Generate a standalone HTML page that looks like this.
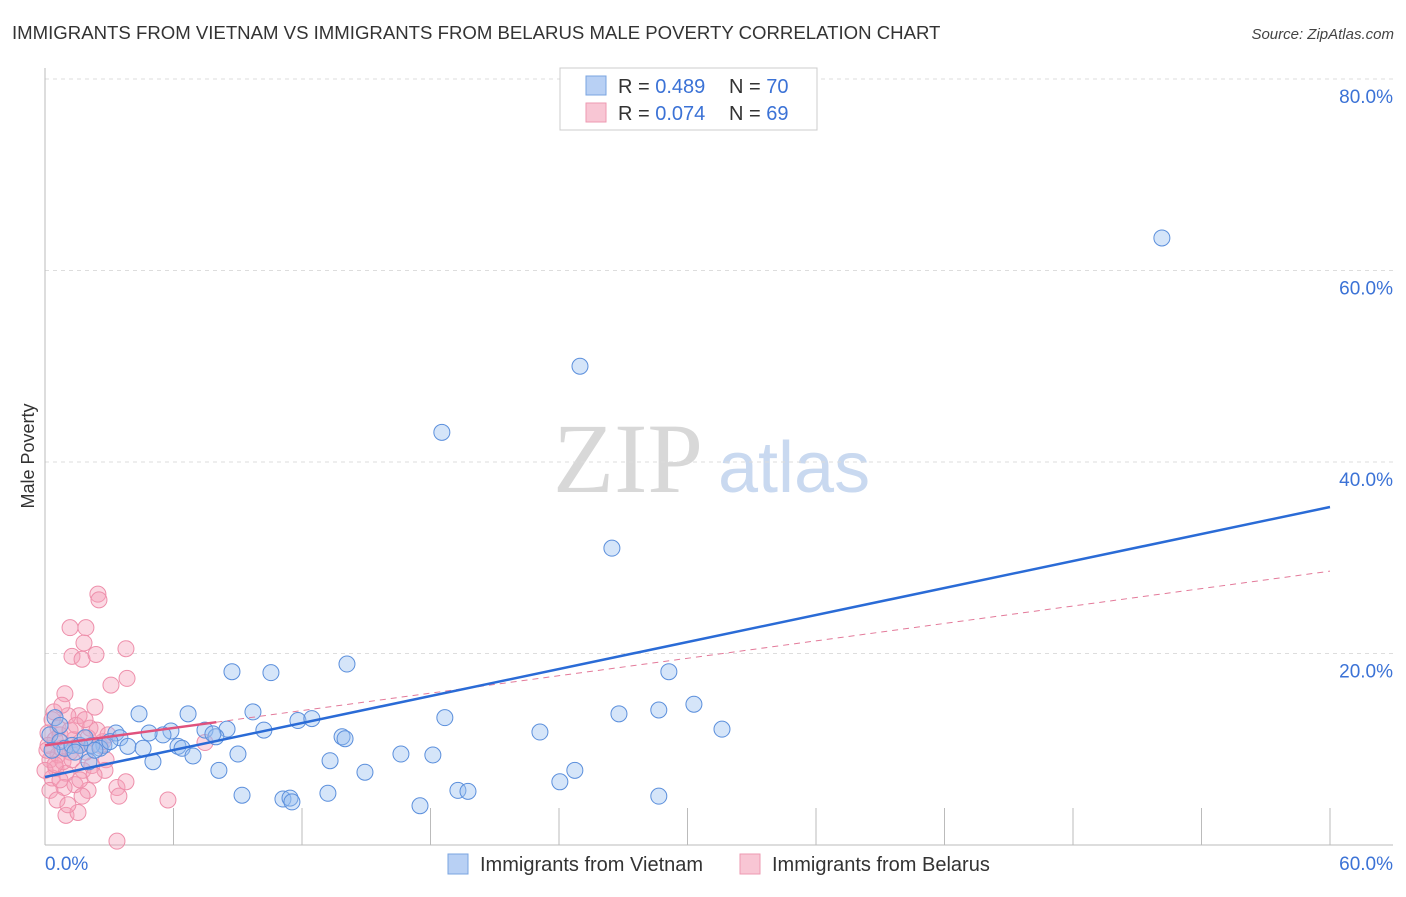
<!DOCTYPE html>
<html><head><meta charset="utf-8"><style>
body{margin:0;background:#fff;font-family:"Liberation Sans",sans-serif}
svg text{font-family:"Liberation Sans",sans-serif}
</style></head><body>
<svg id="c" width="1406" height="892">
<text x="12" y="39" font-size="18.6" fill="#333">IMMIGRANTS FROM VIETNAM VS IMMIGRANTS FROM BELARUS MALE POVERTY CORRELATION CHART</text>
<text x="1394" y="39" font-size="15" fill="#444" font-style="italic" text-anchor="end">Source: ZipAtlas.com</text>
<text transform="translate(34,456) rotate(-90)" font-size="18" fill="#333" text-anchor="middle">Male Poverty</text>
<text x="553" y="492" font-size="100" fill="#d8d8d8" style="font-family:'Liberation Serif',serif">ZIP</text>
<text x="718" y="492" font-size="72" fill="#c9d9f0">atlas</text>
<g id="grid"></g><g id="pts"></g><g id="lines"></g>
<g>
<rect x="560" y="68" width="257" height="62" fill="#fff" stroke="#ccc"/>
<rect x="586" y="76" width="20" height="19" fill="#b8d0f4" stroke="#7aa4e0"/>
<rect x="586" y="103" width="20" height="19" fill="#f8c6d4" stroke="#ee9ab2"/>
<text x="618" y="93" font-size="20" fill="#333">R = <tspan fill="#3b72d6">0.489</tspan></text>
<text x="729" y="93" font-size="20" fill="#333">N = <tspan fill="#3b72d6">70</tspan></text>
<text x="618" y="120" font-size="20" fill="#333">R = <tspan fill="#3b72d6">0.074</tspan></text>
<text x="729" y="120" font-size="20" fill="#333">N = <tspan fill="#3b72d6">69</tspan></text>
</g>
<g>
<rect x="448" y="854" width="20" height="20" fill="#b8d0f4" stroke="#7aa4e0"/>
<text x="480" y="871" font-size="20" fill="#333">Immigrants from Vietnam</text>
<rect x="740" y="854" width="20" height="20" fill="#f8c6d4" stroke="#ee9ab2"/>
<text x="772" y="871" font-size="20" fill="#333">Immigrants from Belarus</text>
</g>
</svg>
<script>
const yTicks=[20,40,60,80];
const yTickLabels=["20.0%","40.0%","60.0%","80.0%"];
const xTickLabels=["0.0%","60.0%"];
const blueX=[52.15,24.98,18.53,26.47,14.10,8.73,10.55,29.13,30.30,28.66,26.80,18.67,31.61,23.11,4.39,6.68,9.71,11.81,12.46,10.22,8.50,7.47,5.88,5.51,4.86,3.31,3.50,2.75,2.19,3.87,4.58,6.21,6.40,7.98,7.84,13.87,14.01,9.01,6.91,5.04,2.05,13.31,16.62,18.11,24.74,14.94,8.12,24.04,19.28,19.75,9.20,11.11,11.44,11.53,13.21,17.51,28.66,0.47,0.23,0.70,0.93,1.26,1.63,2.57,3.03,0.33,1.40,1.87,2.33,0.70];
const blueY=[63.4,50.0,43.1,31.0,18.9,18.1,18.0,18.1,14.7,14.1,13.7,13.3,12.1,11.8,13.7,13.7,13.9,13.0,13.2,12.0,12.1,12.0,11.9,11.5,11.7,11.7,11.2,10.4,10.4,10.3,10.1,10.3,10.1,11.3,11.6,11.3,11.1,9.5,9.3,8.7,8.7,8.8,9.5,9.4,7.8,7.6,7.8,6.6,5.7,5.6,5.2,4.8,4.9,4.5,5.4,4.1,5.1,13.3,11.5,10.8,10.1,10.4,10.4,10.1,10.8,9.9,9.7,11.2,9.9,12.5];
const pinkX=[2.47,2.52,1.17,1.91,1.82,1.26,1.73,2.38,3.78,3.83,3.08,0.93,2.33,1.59,1.07,2.10,0.33,0.61,0.14,0.47,0.79,1.17,1.54,2.01,2.57,2.85,0.23,0.51,0.98,0.33,1.40,0.89,2.01,3.36,3.78,1.73,3.45,5.74,0.98,1.54,3.36,7.47,2.71,0.14,0.61,0.84,1.26,1.77,2.19,2.80,0.42,0.70,1.35,1.91,0.23,0.56,1.07,1.63,2.29,0.00,0.09,0.70,1.17,1.45,1.87,0.79,2.43,2.94,0.47];
const pinkY=[26.2,25.6,22.7,22.7,21.1,19.7,19.4,19.9,20.5,17.4,16.7,15.8,14.4,13.5,13.5,12.2,13.1,12.2,11.7,11.0,10.1,9.7,10.4,11.2,10.4,8.9,8.9,8.0,7.5,7.0,6.3,6.0,5.7,6.0,6.6,5.1,5.1,4.7,3.1,3.4,0.4,10.7,10.8,10.4,9.4,8.7,8.9,7.8,8.3,7.8,13.9,11.5,11.0,9.7,5.7,4.7,4.2,6.8,7.3,7.8,9.9,6.8,12.0,12.5,13.1,14.6,12.0,11.5,8.4];
const blueTrend=[7.1,35.3];
const pinkTrend=[10.4,28.6];
const NS="http://www.w3.org/2000/svg";
const X=v=>45+v*(1285/60), Y=v=>845-v*(766/80);
function mk(t,a,p){const e=document.createElementNS(NS,t);for(const k in a)e.setAttribute(k,a[k]);p.appendChild(e);return e;}
const g=document.getElementById('grid');
yTicks.forEach((t,i)=>{
 const l=mk('line',{x1:45,x2:1393,y1:Y(t),y2:Y(t),stroke:'#ddd','stroke-dasharray':'4,4'},g);
 
 
 const tx=mk('text',{x:1393,y:Y(t)+24,'font-size':19,fill:'#3b72d6','text-anchor':'end'},g);
 tx.textContent=yTickLabels[i];
 
 
});
mk('line',{x1:45,x2:45,y1:68,y2:845,stroke:'#bbb'},g);
mk('line',{x1:45,x2:1393,y1:845,y2:845,stroke:'#bbb'},g);
for(let i=1;i<=10;i++){const l=mk('line',{x1:X(i*6),x2:X(i*6),y1:808,y2:845,stroke:'#bbb'},g);
 
 }
const t0=mk('text',{x:45,y:870,'font-size':19,fill:'#3b72d6'},g);t0.textContent=xTickLabels[0];


const t1=mk('text',{x:1393,y:870,'font-size':19,fill:'#3b72d6','text-anchor':'end'},g);t1.textContent=xTickLabels[1];


const p=document.getElementById('pts');
pinkX.forEach((x,i)=>{const c=mk('circle',{cx:X(x),cy:Y(pinkY[i]),r:8,fill:'rgba(244,160,185,0.4)',stroke:'#ee8fab','stroke-width':1},p);
 
 });
blueX.forEach((x,i)=>{const c=mk('circle',{cx:X(x),cy:Y(blueY[i]),r:8,fill:'rgba(150,190,240,0.4)',stroke:'#5b8fdc','stroke-width':1},p);
 
 });
const L=document.getElementById('lines');
const pv=x=>pinkTrend[0]+(pinkTrend[1]-pinkTrend[0])*x/60;
const pd=mk('line',{x1:X(8),y1:Y(pv(8)),x2:X(60),y2:Y(pinkTrend[1]),stroke:'#e37a9a','stroke-width':1,'stroke-dasharray':'6,5'},L);


const ps=mk('line',{x1:X(0),y1:Y(pinkTrend[0]),x2:X(8),y2:Y(pv(8)),stroke:'#e0527d','stroke-width':2.5},L);


const bl=mk('line',{x1:X(0),y1:Y(blueTrend[0]),x2:X(60),y2:Y(blueTrend[1]),stroke:'#2a6bd6','stroke-width':2.5},L);


</script>
</body></html>
